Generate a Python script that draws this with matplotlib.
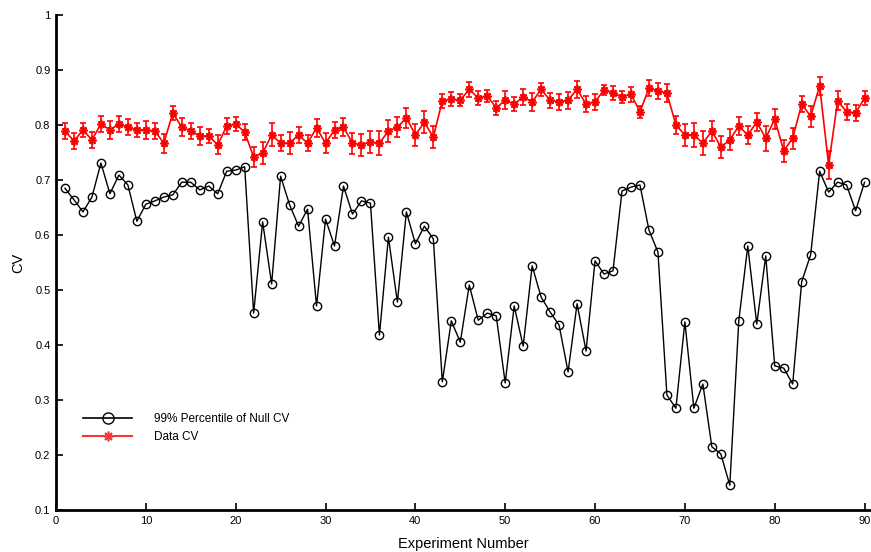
import numpy as np
import matplotlib.pyplot as plt
from matplotlib.lines import Line2D

plt.rcParams['font.family'] = ['Liberation Sans', 'DejaVu Sans']

experiment = np.arange(1, 91)

null_cv_99 = [
    0.685, 0.664, 0.642, 0.669, 0.731, 0.675, 0.709, 0.691, 0.625, 0.656,
    0.662, 0.669, 0.673, 0.696, 0.696, 0.682, 0.689, 0.675, 0.716, 0.718,
    0.724, 0.458, 0.624, 0.511, 0.707, 0.655, 0.616, 0.647, 0.471, 0.629,
    0.580, 0.689, 0.638, 0.662, 0.658, 0.418, 0.596, 0.478, 0.642, 0.584,
    0.616, 0.593, 0.333, 0.444, 0.405, 0.509, 0.445, 0.458, 0.453, 0.331,
    0.471, 0.398, 0.544, 0.487, 0.460, 0.436, 0.351, 0.475, 0.389, 0.553,
    0.529, 0.535, 0.680, 0.687, 0.691, 0.609, 0.569, 0.309, 0.285, 0.442,
    0.285, 0.329, 0.215, 0.202, 0.145, 0.444, 0.580, 0.438, 0.562, 0.362,
    0.358, 0.329, 0.515, 0.564, 0.716, 0.678, 0.696, 0.691, 0.644, 0.696,
]

data_cv = [
    0.789, 0.771, 0.791, 0.773, 0.802, 0.791, 0.802, 0.796, 0.791, 0.791,
    0.789, 0.767, 0.822, 0.796, 0.789, 0.780, 0.780, 0.764, 0.798, 0.802,
    0.787, 0.742, 0.749, 0.782, 0.767, 0.767, 0.782, 0.767, 0.795, 0.767,
    0.791, 0.796, 0.767, 0.764, 0.769, 0.767, 0.789, 0.796, 0.813, 0.782,
    0.805, 0.778, 0.844, 0.847, 0.845, 0.865, 0.849, 0.853, 0.831, 0.845,
    0.838, 0.851, 0.842, 0.865, 0.845, 0.842, 0.845, 0.865, 0.838, 0.842,
    0.864, 0.858, 0.851, 0.856, 0.824, 0.867, 0.862, 0.858, 0.800, 0.782,
    0.782, 0.767, 0.789, 0.760, 0.773, 0.798, 0.782, 0.805, 0.776, 0.811,
    0.753, 0.776, 0.838, 0.816, 0.871, 0.727, 0.844, 0.824, 0.822, 0.849,
]

data_cv_err = [
    0.014, 0.014, 0.013, 0.014, 0.015, 0.017, 0.015, 0.015, 0.013, 0.016,
    0.015, 0.017, 0.013, 0.016, 0.015, 0.016, 0.013, 0.017, 0.015, 0.013,
    0.014, 0.018, 0.020, 0.021, 0.015, 0.020, 0.015, 0.014, 0.016, 0.018,
    0.015, 0.016, 0.019, 0.020, 0.020, 0.022, 0.020, 0.018, 0.018, 0.020,
    0.020, 0.020, 0.013, 0.013, 0.011, 0.014, 0.013, 0.011, 0.013, 0.016,
    0.013, 0.014, 0.016, 0.012, 0.014, 0.014, 0.015, 0.015, 0.014, 0.014,
    0.009, 0.013, 0.011, 0.014, 0.011, 0.014, 0.014, 0.017, 0.017, 0.020,
    0.022, 0.022, 0.018, 0.020, 0.019, 0.016, 0.017, 0.016, 0.023, 0.019,
    0.020, 0.019, 0.015, 0.019, 0.017, 0.025, 0.017, 0.014, 0.014, 0.013,
]

y_ticks = [0.1, 0.2, 0.3, 0.4, 0.5, 0.6, 0.7, 0.8, 0.9, 1.0]
y_tick_labels = ['0.1', '0.2', '0.3', '0.4', '0.5', '0.6', '0.7', '0.8', '0.9', '1']
x_ticks = [0, 10, 20, 30, 40, 50, 60, 70, 80, 90]

# eight-spoke asterisk, like a MATLAB '*'
asterisk = (8, 2, 0)

fig = plt.figure(figsize=(8.71, 5.52), dpi=100)
ax = fig.add_axes([0.0643, 0.0761, 0.9345, 0.8967])

ax.plot(experiment, null_cv_99, color='black', lw=1.0, marker='o',
        markersize=6, markerfacecolor='none', markeredgecolor='black',
        markeredgewidth=1.0)
ax.errorbar(experiment, data_cv, yerr=data_cv_err, color='red', lw=1.2,
            marker=asterisk, markersize=6, markeredgewidth=1.2, ecolor='red',
            elinewidth=1.2, capsize=2.5, capthick=1.2)

ax.set_xlim(0, 90.6)
ax.set_ylim(0.1, 1.0)
ax.set_xticks(x_ticks)
ax.set_yticks(y_ticks)
ax.set_yticklabels(y_tick_labels)
ax.tick_params(direction='in', length=5, width=1.2, labelsize=8, pad=4)

for side in ['top', 'right']:
    ax.spines[side].set_visible(False)
for side in ['left', 'bottom']:
    ax.spines[side].set_linewidth(2)

ax.set_xlabel('Experiment Number', fontsize=10.5, labelpad=8)
ax.set_ylabel('CV', fontsize=10.5, labelpad=7)

handles = [
    Line2D([], [], color='black', lw=1.2, marker='o', markersize=8,
           markerfacecolor='none'),
    Line2D([], [], color='#ff3333', lw=1.5, marker=asterisk, markersize=7,
           markeredgewidth=1.2),
]
ax.legend(handles, ['99% Percentile of Null CV', 'Data CV'], loc='center left',
          bbox_to_anchor=(0.02, 0.166), frameon=False, fontsize=8.5,
          handlelength=4.2, handletextpad=1.8, labelspacing=0.5)

fig.savefig('out.png', dpi=100)
